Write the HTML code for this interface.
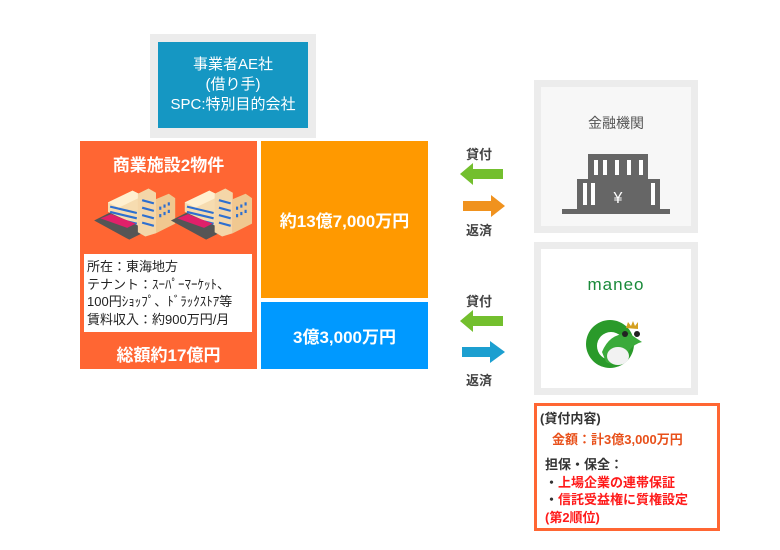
<!DOCTYPE html>
<html><head><meta charset="utf-8"><style>
body{margin:0;width:780px;height:550px;background:#fff;position:relative;overflow:hidden;font-family:"Liberation Sans","Noto Sans CJK JP",sans-serif}
.a{position:absolute}
.c{display:flex;align-items:center;justify-content:center;text-align:center}
</style></head><body>
<div class="a" style="left:150px;top:34px;width:166px;height:104px;background:#ececec"></div>
<div class="a c" style="left:158px;top:42px;width:150px;height:86px;background:#1597c3;color:#fff;font-size:15px;line-height:20px">事業者AE社<br>(借り手)<br>SPC:特別目的会社</div>

<div class="a" style="left:80px;top:141px;width:177px;height:228px;background:#ff6633"></div>
<div class="a" style="left:80px;top:151px;width:177px;text-align:center;color:#fff;font-size:17px;font-weight:bold">商業施設2物件</div>
<svg class="a" style="left:92px;top:180px" width="160" height="66" viewBox="0 0 150 60">
<g id="b"><polygon points="2,37 22,27 55,45 35,55" fill="#555"/>
<polygon points="15,20 38,9 48,14 48,44 15,29" fill="#f6dcb0"/><polygon points="15,20 38,9 48,14 25,25" fill="#fff0d0"/>
<polygon points="43,12 53,7 60,11 60,49 50,52 43,48" fill="#f4d6a8"/>
<polygon points="60,17 72,12 78,16 78,40 60,49" fill="#f0c890"/>
<g stroke="#2d6fd0" stroke-width="2"><line x1="17" y1="24" x2="42" y2="30"/><line x1="17" y1="29" x2="42" y2="35"/><line x1="17" y1="34" x2="42" y2="40"/><line x1="47" y1="18" x2="58" y2="21"/><line x1="47" y1="25" x2="58" y2="28"/><line x1="47" y1="32" x2="58" y2="35"/><line x1="47" y1="39" x2="58" y2="42"/></g>
<g fill="#2d6fd0"><rect x="63" y="24" width="2" height="3"/><rect x="67" y="22" width="2" height="3"/><rect x="71" y="20" width="2" height="3"/><rect x="63" y="31" width="2" height="3"/><rect x="67" y="29" width="2" height="3"/><rect x="71" y="27" width="2" height="3"/></g>
<polygon points="8,35 18,31 41,40 33,44" fill="#e0206a"/></g>
<use href="#b" x="72"/>
</svg>
<div class="a" style="left:84px;top:254px;width:168px;height:78px;background:#fff"></div>
<div class="a" style="left:87px;top:258px;font-size:13px;line-height:17.5px;color:#222;white-space:nowrap">所在：東海地方<br>テナント：ｽｰﾊﾟｰﾏｰｹｯﾄ、<br>100円ｼｮｯﾌﾟ、ﾄﾞﾗｯｸｽﾄｱ等<br>賃料収入：約900万円/月</div>
<div class="a" style="left:80px;top:341px;width:177px;text-align:center;color:#fff;font-size:17px;font-weight:bold">総額約17億円</div>

<div class="a c" style="left:261px;top:141px;width:167px;height:157px;background:#ff9900;color:#fff;font-size:17px;font-weight:bold">約13億7,000万円</div>
<div class="a c" style="left:261px;top:302px;width:167px;height:67px;background:#0099ff;color:#fff;font-size:17px;font-weight:bold">3億3,000万円</div>

<div class="a" style="left:466px;top:144px;font-size:13px;color:#444;font-weight:bold">貸付</div>
<svg class="a" style="left:458px;top:162px" width="50" height="58"><polygon points="2,12 15,1 15,7 45,7 45,17 15,17 15,23" fill="#73bf2e"/><polygon points="5,39 33,39 33,33 47,44 33,55 33,49 5,49" fill="#f0921e"/></svg>
<div class="a" style="left:466px;top:220px;font-size:13px;color:#444;font-weight:bold">返済</div>

<div class="a" style="left:466px;top:291px;font-size:13px;color:#444;font-weight:bold">貸付</div>
<svg class="a" style="left:458px;top:309px" width="50" height="58"><polygon points="2,12 15,1 15,7 45,7 45,17 15,17 15,23" fill="#73bf2e"/><polygon points="4,38 32,38 32,32 47,43 32,54 32,48 4,48" fill="#1c9fd0"/></svg>
<div class="a" style="left:466px;top:370px;font-size:13px;color:#444;font-weight:bold">返済</div>

<div class="a" style="left:534px;top:80px;width:164px;height:153px;background:#ececec"></div>
<div class="a" style="left:541px;top:87px;width:150px;height:139px;background:#f7f7f7"></div>
<div class="a" style="left:534px;top:113px;width:164px;text-align:center;font-size:14px;color:#555">金融機関</div>
<svg class="a" style="left:560px;top:150px" width="112" height="66">
<rect x="28" y="4" width="60" height="26" fill="#666"/><rect x="17" y="29" width="83" height="31" fill="#666"/><rect x="2" y="59" width="108" height="5" fill="#666"/>
<g fill="#fff"><rect x="34" y="10" width="4" height="15"/><rect x="43" y="10" width="4" height="15"/><rect x="55" y="10" width="4" height="15"/><rect x="67" y="10" width="4" height="15"/><rect x="79" y="10" width="4" height="15"/><rect x="23" y="33" width="4" height="22"/><rect x="31" y="33" width="4" height="22"/><rect x="91" y="33" width="4" height="22"/></g>
<text x="58" y="53" fill="#fff" font-size="16" text-anchor="middle" font-family="Liberation Sans">¥</text></svg>

<div class="a" style="left:534px;top:242px;width:164px;height:153px;background:#ececec"></div>
<div class="a" style="left:541px;top:249px;width:150px;height:139px;background:#fff"></div>
<div class="a" style="left:534px;top:275px;width:164px;text-align:center;font-size:17px;color:#1a8a3a;letter-spacing:1px">maneo</div>
<svg class="a" style="left:580px;top:312px" width="76" height="60">
<circle cx="30" cy="32" r="24" fill="#2a9a2a"/><circle cx="31" cy="34" r="14" fill="#fff"/>
<path d="M22,40 Q30,20 50,22 L62,30 Q52,32 46,44 Q38,56 26,50 Z" fill="#3aaa3a"/>
<ellipse cx="38" cy="44" rx="11" ry="9" fill="#f2f2f2"/>
<circle cx="45" cy="22" r="3" fill="#222"/><circle cx="57" cy="22" r="3" fill="#222"/>
<polygon points="46,16 48,10 51,14 53,9 55,14 58,10 58,17" fill="#d4a020"/></svg>

<div class="a" style="left:534px;top:403px;width:180px;height:122px;border:3px solid #ff6633;background:#fff"></div>
<div class="a" style="left:540px;top:408px;font-size:13px;line-height:21px;font-weight:bold;color:#333;white-space:nowrap">(貸付内容)<br><span style="color:#e8501a;padding-left:12px">金額：計3億3,000万円</span></div>
<div class="a" style="left:545px;top:456px;font-size:13px;line-height:17.5px;font-weight:bold;color:#333;white-space:nowrap">担保・保全：<br>・<span style="color:#ff1a1a">上場企業の連帯保証</span><br>・<span style="color:#ff1a1a">信託受益権に質権設定</span><br><span style="color:#ff1a1a">(第2順位)</span></div>
</body></html>
